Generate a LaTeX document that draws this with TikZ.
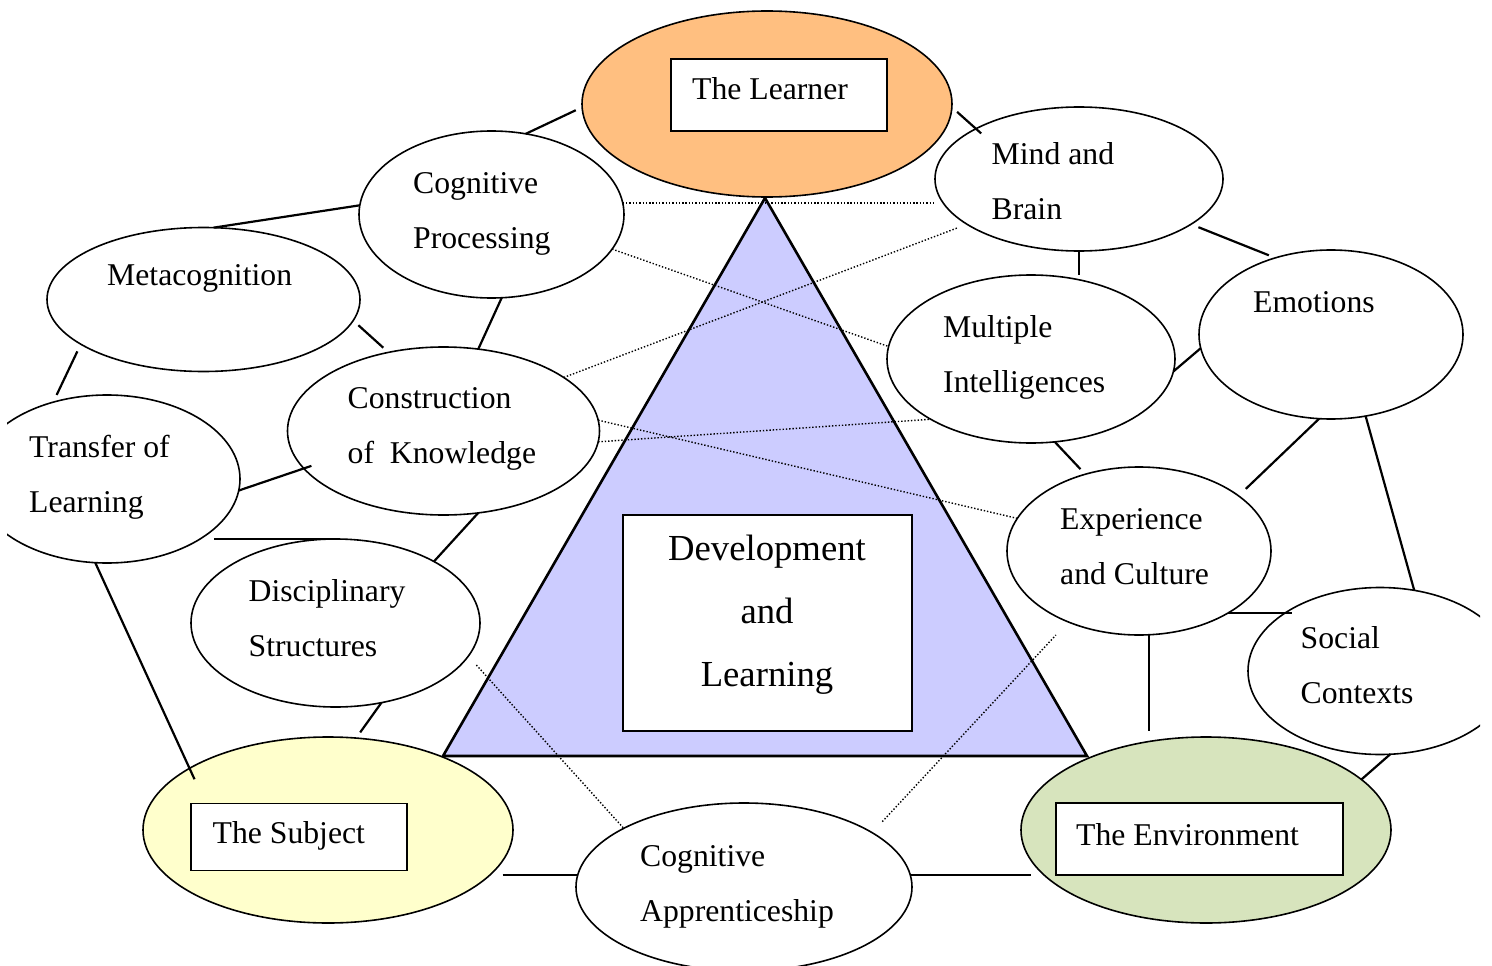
\documentclass[tikz,border=0pt]{standalone}
\usepackage{fontspec}
\setmainfont{Liberation Serif}
\usetikzlibrary{shapes.geometric}

\definecolor{learnerfill}{RGB}{255,191,128}
\definecolor{subjectfill}{RGB}{255,255,204}
\definecolor{envfill}{RGB}{215,228,189}
\definecolor{corefill}{RGB}{204,204,255}

\begin{document}
\begin{tikzpicture}[x=1pt,y=-1pt,
  topic/.style={ellipse, draw, line width=1.6pt, fill=white, inner sep=0pt, outer sep=0pt},
  tag/.style={draw, line width=1.6pt, fill=white, inner sep=0pt},
  txt/.style={anchor=base west, inner sep=0pt, font=\fontsize{31.7}{38}\selectfont},
  coretxt/.style={anchor=base, inner sep=0pt, font=\fontsize{36.7}{44}\selectfont},
  link/.style={line width=2.2pt},
  hint/.style={line width=1.4pt, dash pattern=on 1.4pt off 1.9pt},
]
\useasboundingbox (0,0) rectangle (1492,966);
\clip (7,0) rectangle (1480,966);

% central triangle
\coordinate (apex) at (765,198);
\coordinate (bl) at (443,756);
\coordinate (br) at (1087,756);
\draw[line width=2.6pt, fill=corefill, line join=miter] (apex) -- (bl) -- (br) -- cycle;
\node[tag, minimum width=289pt, minimum height=216pt] (core) at (767.5,623) {};
\node[coretxt] (core1) at (767,560) {Development};
\node[coretxt] (core2) at (767,623) {and};
\node[coretxt] (core3) at (767,686.5) {Learning};

% the three corner ellipses
\node[topic, fill=learnerfill, minimum width=370pt, minimum height=186pt] (lrn) at (767,104) {};
\node[topic, fill=subjectfill, minimum width=370pt, minimum height=186pt] (su) at (328,830) {};
\node[topic, fill=envfill, minimum width=370pt, minimum height=186pt] (en) at (1206,830) {};
\node[tag, minimum width=216pt, minimum height=72pt] (lrnbox) at (779,95) {};
\node[tag, minimum width=216pt, minimum height=67pt] (subox) at (299,837) {};
\node[tag, minimum width=287pt, minimum height=72pt] (enbox) at (1199.5,839) {};
\node[txt] (t-lrn) at (692,99.5) {The Learner};
\node[txt] (t-su) at (212.5,843.5) {The Subject};
\node[txt] (t-en) at (1076,845) {The Environment};

% topic ellipses
\node[topic, minimum width=265pt, minimum height=167pt] (cp) at (491.5,214.5) {};
\node[topic, minimum width=288pt, minimum height=144pt] (mb) at (1079,179) {};
\node[topic, minimum width=313pt, minimum height=144pt] (mc) at (203.5,299.5) {};
\node[topic, minimum width=312pt, minimum height=168pt] (ck) at (443.5,431) {};
\node[topic, minimum width=288pt, minimum height=168pt] (mi) at (1031,359) {};
\node[topic, minimum width=264pt, minimum height=169pt] (em) at (1331,334.5) {};
\node[topic, minimum width=266pt, minimum height=168pt] (tl) at (107,479) {};
\node[topic, minimum width=289pt, minimum height=168pt] (ds) at (335.5,623) {};
\node[topic, minimum width=264pt, minimum height=168pt] (ec) at (1139,551) {};
\node[topic, minimum width=264pt, minimum height=167pt] (sc) at (1380,671) {};
\node[topic, minimum width=336pt, minimum height=168pt] (ca) at (744,887) {};

\node[txt] (t-cp1) at (413,193.5) {Cognitive};
\node[txt] (t-cp2) at (413,248.5) {Processing};
\node[txt] (t-mb1) at (991.5,164.5) {Mind and};
\node[txt] (t-mb2) at (991.5,219.5) {Brain};
\node[txt] (t-mc) at (107,285) {Metacognition};
\node[txt] (t-ck1) at (347.5,408.5) {Construction};
\node[txt] (t-ck2) at (347.5,463.5) {of~~Knowledge};
\node[txt] (t-mi1) at (943,337.5) {Multiple};
\node[txt] (t-mi2) at (943,392.5) {Intelligences};
\node[txt] (t-em) at (1253,312.5) {Emotions};
\node[txt] (t-tl1) at (29,457) {Transfer of};
\node[txt] (t-tl2) at (29,512) {Learning};
\node[txt] (t-ds1) at (248.5,601) {Disciplinary};
\node[txt] (t-ds2) at (248.5,656) {Structures};
\node[txt] (t-ec1) at (1060,529.5) {Experience};
\node[txt] (t-ec2) at (1060,584.5) {and Culture};
\node[txt] (t-sc1) at (1300.5,648.5) {Social};
\node[txt] (t-sc2) at (1300.5,703.5) {Contexts};
\node[txt] (t-ca1) at (640,866) {Cognitive};
\node[txt] (t-ca2) at (640,921) {Apprenticeship};

% solid links
\draw[link, shorten <=7pt] (lrn.181) -- (cp.67);
\draw[link, shorten <=7pt, shorten >=-7pt] (lrn.359) -- (mb.154);
\draw[link] (cp.176) -- (mc.82);
\draw[link, shorten <=7pt, shorten >=7pt] (mc.352) -- (ck.125);
\draw[link] (cp.277) -- (ck.67);
\draw[link, shorten <=8pt, shorten >=8pt] (mc.200) -- (tl.125);
\draw[link, shorten >=-8pt] (tl.355) -- (ck.195);
\draw[link] (ds.north) -- (ds.north -| tl.335);
\draw[link] (ck.293) -- (ds.32);
\draw[link, shorten >=-12pt] (tl.262) -- (su.156);
\draw[link, shorten >=7pt] (ds.300) -- (su.73);
\draw[link, shorten <=9pt] (ca.176 -| su.346) -- (ca.176);
\draw[link, shorten >=9pt] (ca.4) -- (ca.4 -| en.194);
\draw[link] (mb.south) -- (mb.south |- mi.north);
\draw[link, shorten <=8pt, shorten >=7pt] (mb.338) -- (em.126);
\draw[link] (mi.355) -- (em.186);
\draw[link, shorten >=7pt] (mi.286) -- (ec.125);
\draw[link, shorten >=10pt] (em.262) -- (ec.29);
\draw[link] (em.293) -- (sc.67);
\draw[link] (ec.325) -- (ec.325 -| sc.145);
\draw[link, shorten >=6pt] (ec.277) -- (ec.277 |- en.north);
\draw[link] (sc.277) -- (en.18);

% dotted links across the triangle
\draw[hint] (cp.5) -- (cp.5 -| mb.west);
\draw[hint] (cp.344) -- (mi.175);
\draw[hint, shorten >=10pt] (ck.24) -- (mb.202);
\draw[hint] (ck.356) -- (mi.211);
\draw[hint] (ck.4) -- (ec.165);
\draw[hint, shorten <=12pt] (ds.346) -- (ca.154);
\draw[hint, shorten <=15pt, shorten >=18pt] (ca.23) -- (ec.225);
\end{tikzpicture}
\end{document}
